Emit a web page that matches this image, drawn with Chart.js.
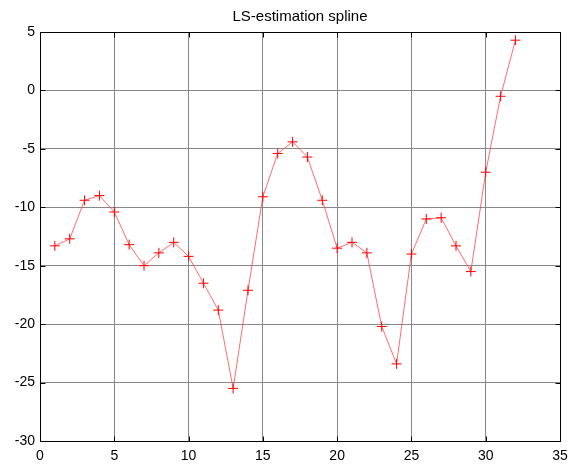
<!DOCTYPE html>
<html>
<head>
<meta charset="utf-8">
<script src="https://cdn.jsdelivr.net/npm/chart.js@4"></script>
<style>
  html, body { margin: 0; padding: 0; background: #fff; }
  #wrap { width: 581px; height: 465px; }
</style>
</head>
<body>
<div id="wrap"><canvas id="chart" width="581" height="465"></canvas></div>
<script>
// data
const xValues = [1, 2, 3, 4, 5, 6, 7, 8, 9, 10, 11, 12, 13, 14, 15, 16,
  17, 18, 19, 20, 21, 22, 23, 24, 25, 26, 27, 28, 29, 30, 31, 32];
const yValues = [-13.3, -12.7, -9.4, -9.0, -10.4, -13.2, -15.0, -13.9, -13.0, -14.2, -16.5, -18.8, -25.5, -17.1, -9.1, -5.4,
  -4.4, -5.7, -9.4, -13.5, -13.0, -13.9, -20.2, -23.4, -14.0, -11.0, -10.9, -13.3, -15.5, -7.0, -0.5, 4.3];
const xTicks = [0, 5, 10, 15, 20, 25, 30, 35];
const yTicks = [-30, -25, -20, -15, -10, -5, 0, 5];
const chartTitle = 'LS-estimation spline';

const points = xValues.map((x, i) => ({ x: x, y: yValues[i] }));

// black box round the plot area plus short inward ticks, like the matlab axes.
// title is drawn here too so it centres on the plot area, not the canvas
const boxPlugin = {
  id: 'box',
  afterDraw(chart) {
    const { ctx, chartArea: a, scales } = chart;
    const L = Math.round(a.left) + 0.5, R = Math.round(a.right) + 0.5;
    const T = Math.round(a.top) + 0.5, B = Math.round(a.bottom) + 0.5;
    const len = 5;
    ctx.save();
    ctx.strokeStyle = '#000';
    ctx.lineWidth = 1;
    ctx.beginPath();
    scales.x.ticks.forEach(t => {
      const px = Math.round(scales.x.getPixelForValue(t.value)) + 0.5;
      ctx.moveTo(px, B); ctx.lineTo(px, B - len);
      ctx.moveTo(px, T); ctx.lineTo(px, T + len);
    });
    scales.y.ticks.forEach(t => {
      const py = Math.round(scales.y.getPixelForValue(t.value)) + 0.5;
      ctx.moveTo(L, py); ctx.lineTo(L + len, py);
      ctx.moveTo(R, py); ctx.lineTo(R - len, py);
    });
    ctx.stroke();
    ctx.strokeRect(L, T, R - L, B - T);

    ctx.fillStyle = '#000';
    ctx.font = '15px "Liberation Sans", Arial';
    ctx.textAlign = 'center';
    ctx.textBaseline = 'alphabetic';
    ctx.fillText(chartTitle, (a.left + a.right) / 2, 21);
    ctx.restore();
  }
};

const ctx = document.getElementById('chart').getContext('2d');
new Chart(ctx, {
  type: 'line',
  data: {
    datasets: [{
      data: points,
      borderColor: 'rgba(255, 60, 60, 0.75)',
      borderWidth: 1,
      pointStyle: 'cross',
      pointRadius: 5,
      pointBorderColor: '#ff0000',
      pointBorderWidth: 1,
      pointHoverRadius: 5,
      tension: 0,
      fill: false
    }]
  },
  options: {
    responsive: false,
    animation: false,
    layout: { padding: { left: 0, right: 21, top: 32, bottom: 0 } },
    plugins: {
      legend: { display: false },
      tooltip: { enabled: false },
      title: { display: false }
    },
    scales: {
      x: {
        type: 'linear',
        min: 0,
        max: 35,
        afterBuildTicks: (scale) => { scale.ticks = xTicks.map(v => ({ value: v })); },
        afterFit: (scale) => { scale.height = 24; },
        grid: { color: '#888888', lineWidth: 1, drawTicks: false },
        border: { display: false },
        ticks: {
          color: '#000',
          padding: 7,
          maxRotation: 0,
          font: { family: 'Liberation Sans, Arial', size: 14 }
        }
      },
      y: {
        min: -30,
        max: 5,
        afterBuildTicks: (scale) => { scale.ticks = yTicks.map(v => ({ value: v })); },
        afterFit: (scale) => { scale.width = 40; },
        grid: { color: '#888888', lineWidth: 1, drawTicks: false },
        border: { display: false },
        ticks: {
          color: '#000',
          padding: 5,
          font: { family: 'Liberation Sans, Arial', size: 14 }
        }
      }
    }
  },
  plugins: [boxPlugin]
});
</script>
</body>
</html>
